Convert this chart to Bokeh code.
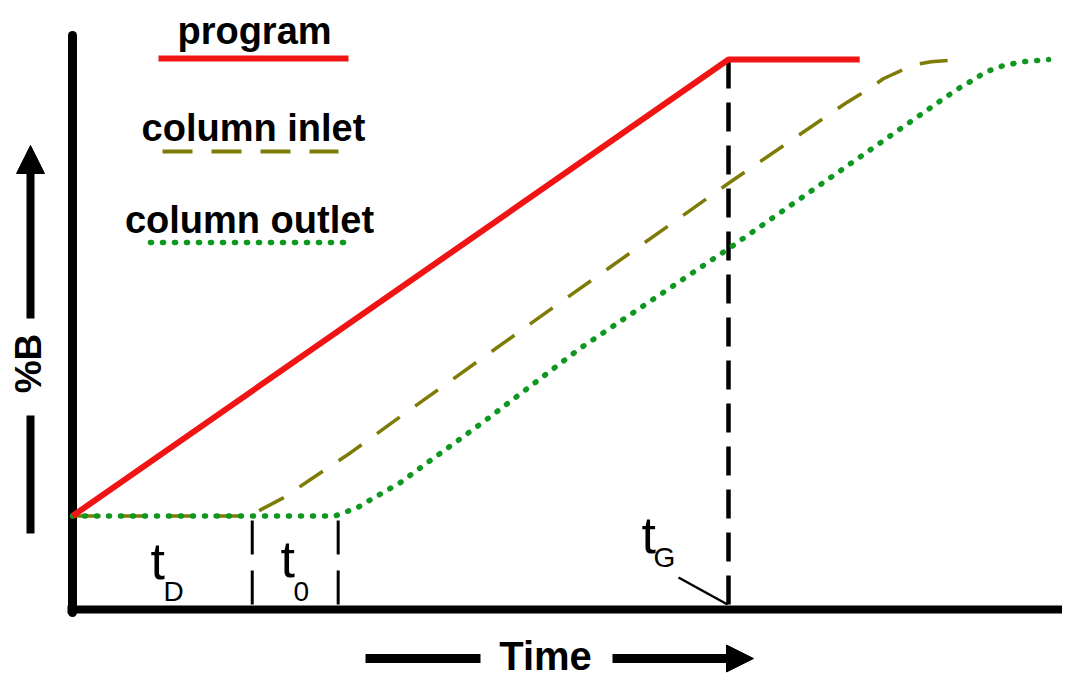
import math
from bokeh.plotting import figure
from bokeh.models import Range1d, Arrow, NormalHead
from bokeh.core.properties import value
from bokeh.embed import file_html
from bokeh.resources import INLINE

# gradient program (time units, %B)
time_program = [0.0, 10.0, 12.0]
b_program = [17, 100, 100]

time_inlet = [0.0, 2.7, 2.8, 3.2, 3.6, 3.9, 4.25, 4.85, 7.48, 10.0, 11.78, 12.12, 12.36, 12.82, 13.09, 13.52]
b_inlet = [17, 17, 17.7, 20.2, 23.4, 25.8, 28.6, 33.8, 56.2, 77.5, 92.0, 94.5, 96.5, 99.0, 99.6, 100]

time_outlet = [0.0, 4.0, 4.34, 4.65, 5.0, 5.41, 5.84, 6.33, 7.74, 10.0, 11.78, 13.28, 13.58, 13.77, 13.89, 14.19, 14.5, 14.88]
b_outlet = [17, 17, 18.5, 20.7, 23.1, 26.7, 30.4, 34.7, 47.5, 65.6, 80.4, 92.9, 95.3, 96.5, 97.6, 98.9, 99.6, 100]

t_D = 2.74   # dwell time
t_0 = 1.31   # column dead time
t_G = 10.0   # gradient time

labels = ["program", "column inlet", "column outlet"]

RED = "#f01414"
OLIVE = "#7e7c06"
GREEN = "#0e9820"
FONT = value("Liberation Sans")

# pixel -> data helpers (for placing the annotations)
X0, XS = 72, 65.6
Y0, YS = 609, 5.5


def tx(px):
    return (px - X0) / XS


def by(py):
    return (Y0 - py) / YS


p = figure(width=1062, height=680, x_range=Range1d(tx(0), tx(1062)), y_range=Range1d(by(680), by(0)),
           output_backend="svg", toolbar_location=None, x_axis_location=None, y_axis_location=None,
           min_border=0, outline_line_color=None, background_fill_color="white")
p.grid.visible = False

# axes
p.line([tx(72), tx(72)], [by(35), by(612)], line_width=9, color="black", line_cap="round")
p.line([tx(67), tx(1070)], [0, 0], line_width=8, color="black")

# time markers
p.line([t_G, t_G], [100, 0], line_width=4.5, color="black", line_dash="29 14")
for t in [t_D, t_D + t_0]:
    p.line([t, t], [by(520), 0], line_width=3, color="black", line_dash="34 16")
p.line([tx(678), tx(727)], [by(577), by(604)], line_width=2.5, color="black")

# curves
p.line(time_inlet, b_inlet, line_width=3.5, color=OLIVE, line_dash="28 19")
p.line(time_outlet, b_outlet, line_width=5.5, color=GREEN, line_dash="1 11", line_cap="round")
p.line(time_program, b_program, line_width=6, color=RED)

# legend (text above its line sample)
p.line([tx(158), tx(348)], [by(58)] * 2, line_width=6, color=RED)
p.line([tx(162), tx(338)], [by(151)] * 2, line_width=4, color=OLIVE, line_dash="30 19")
p.line([tx(150), tx(343)], [by(242)] * 2, line_width=5.5, color=GREEN, line_dash="1 11", line_cap="round")
p.text(x=[tx(254), tx(253), tx(249)], y=[by(30), by(127), by(219)], text=labels,
       text_font=FONT, text_font_style="bold", text_font_size="38px",
       text_align="center", text_baseline="middle", text_color="black")

# t labels with subscripts
p.text(x=[tx(150), tx(280), tx(641)], y=[by(560), by(558), by(534)], text=["t", "t", "t"],
       text_font=FONT, text_font_size="52px",
       text_align="left", text_baseline="middle", text_color="black")
p.text(x=[tx(163), tx(293), tx(653)], y=[by(591), by(591), by(557)], text=["D", "0", "G"],
       text_font=FONT, text_font_size="28px",
       text_align="left", text_baseline="middle", text_color="black")

# axis titles with arrows
p.text(x=[tx(28)], y=[by(363)], text=["%B"], angle=math.pi / 2,
       text_font=FONT, text_font_style="bold", text_font_size="37px",
       text_align="center", text_baseline="middle", text_color="black")
p.line([tx(30), tx(30)], [by(533), by(415)], line_width=8, color="black")
p.add_layout(Arrow(end=NormalHead(size=28, fill_color="black", line_color="black"),
                   x_start=tx(30), y_start=by(318), x_end=tx(30), y_end=by(145),
                   line_width=8, line_color="black"))

p.text(x=[tx(545)], y=[by(655)], text=["Time"],
       text_font=FONT, text_font_style="bold", text_font_size="40px",
       text_align="center", text_baseline="middle", text_color="black")
p.line([tx(365), tx(480)], [by(658), by(658)], line_width=9, color="black")
p.add_layout(Arrow(end=NormalHead(size=27, fill_color="black", line_color="black"),
                   x_start=tx(612), y_start=by(658), x_end=tx(753), y_end=by(658),
                   line_width=9, line_color="black"))

open("out.html", "w").write(file_html(p, INLINE))
